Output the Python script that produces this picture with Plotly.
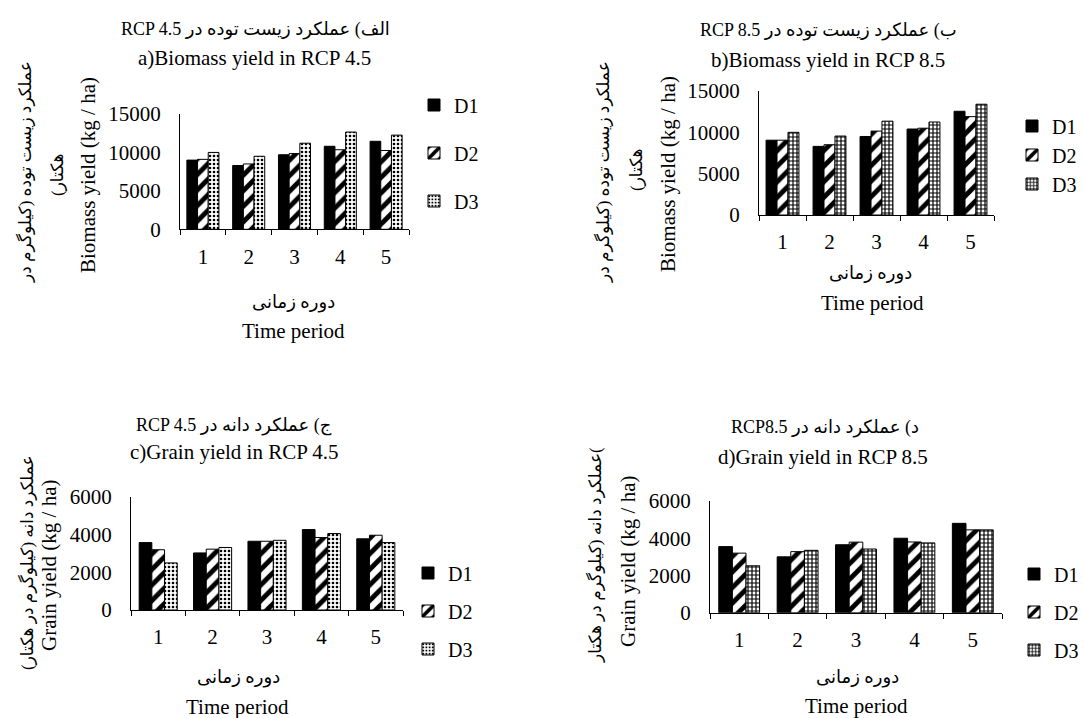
import plotly.graph_objects as go

W, H = 1084, 718

periods = ["1", "2", "3", "4", "5"]
series_names = ["D1", "D2", "D3"]

# a) Biomass yield RCP 4.5
bio45_D1 = [9000, 8300, 9700, 10800, 11450]
bio45_D2 = [9100, 8500, 9850, 10350, 10250]
bio45_D3 = [10000, 9500, 11200, 12650, 12250]
# b) Biomass yield RCP 8.5
bio85_D1 = [9050, 8300, 9500, 10400, 12550]
bio85_D2 = [9050, 8500, 10150, 10500, 11900]
bio85_D3 = [10000, 9550, 11350, 11250, 13400]
# c) Grain yield RCP 4.5
gr45_D1 = [3580, 3030, 3650, 4270, 3780]
gr45_D2 = [3200, 3230, 3650, 3850, 3970]
gr45_D3 = [2500, 3320, 3700, 4060, 3580]
# d) Grain yield RCP 8.5
gr85_D1 = [3550, 3000, 3650, 4000, 4800]
gr85_D2 = [3200, 3280, 3790, 3800, 4450]
gr85_D3 = [2520, 3350, 3420, 3750, 4450]

FONT = "Liberation Serif, DejaVu Sans, serif"
FS = 21      # latin text
FP = 17      # persian text
FT = 18      # mixed titles

def px(x):
    return x / W

def py(y):
    return 1 - y / H

panels = [
    dict(key="a", data=[bio45_D1, bio45_D2, bio45_D3], xd=(180, 409), yd=(114, 229.3),
         rng=15000, dt=5000, dot=".", legend="legend"),
    dict(key="b", data=[bio85_D1, bio85_D2, bio85_D3], xd=(759, 994), yd=(91, 215),
         rng=15000, dt=5000, dot="+", legend="legend2"),
    dict(key="c", data=[gr45_D1, gr45_D2, gr45_D3], xd=(131, 403), yd=(497, 610),
         rng=6000, dt=2000, dot=".", legend="legend3"),
    dict(key="d", data=[gr85_D1, gr85_D2, gr85_D3], xd=(710, 1002), yd=(501, 612.7),
         rng=6000, dt=2000, dot="+", legend="legend4"),
]

fig = go.Figure()
layout = {}
for i, p in enumerate(panels):
    n = "" if i == 0 else str(i + 1)
    xa, ya = "x" + n, "y" + n
    for j, (name, vals) in enumerate(zip(series_names, p["data"])):
        if j == 0:
            pattern = dict(shape="")
            color = "black"
        elif j == 1:
            pattern = dict(shape="/", bgcolor="white", fgcolor="black", size=11,
                           solidity=0.45, fillmode="replace")
            color = "white"
        else:
            if p["dot"] == ".":
                pattern = dict(shape=".", bgcolor="white", fgcolor="black", size=4,
                               solidity=0.35, fillmode="replace")
            else:
                pattern = dict(shape="+", bgcolor="white", fgcolor="black", size=4,
                               solidity=0.5, fillmode="replace")
            color = "white"
        fig.add_trace(go.Bar(
            x=periods, y=vals, name=name, xaxis=xa, yaxis=ya,
            legend=p["legend"], legendgroup=p["key"] + name,
            marker=dict(color=color, pattern=pattern,
                        line=dict(color="black", width=1)),
        ))
    layout["xaxis" + n] = dict(
        domain=[px(p["xd"][0]), px(p["xd"][1])], anchor=ya, type="category",
        range=[-0.5, 4.5], showline=True, linecolor="black", linewidth=1,
        ticks="outside", tickson="boundaries", ticklen=5, tickcolor="black",
        showgrid=False, tickfont=dict(family=FONT, size=FS, color="black"),
        ticklabelstandoff=8,
    )
    layout["yaxis" + n] = dict(
        domain=[py(p["yd"][1]), py(p["yd"][0])], anchor=xa,
        range=[0, p["rng"]], tickvals=list(range(0, p["rng"] + 1, p["dt"])),
        tickformat="d",
        showline=True, linecolor="black", linewidth=1, ticks="",
        showgrid=False, zeroline=False,
        tickfont=dict(family=FONT, size=FS, color="black"),
        ticklabelstandoff=14,
    )

# (left px, centre px of middle item, group gap)
legend_pos = {
    "legend": (414, 153, 19),
    "legend2": (1012, 155, 0),
    "legend3": (408, 611, 9),
    "legend4": (1014, 612, 9),
}
for k, (lx, ly, gap) in legend_pos.items():
    layout[k] = dict(x=px(lx), y=py(ly), xanchor="left", yanchor="middle",
                     bgcolor="rgba(0,0,0,0)", tracegroupgap=gap,
                     itemwidth=30, font=dict(family=FONT, size=20, color="black"))

RLE, PDF, LRM, RLM = "\u202B", "\u202C", "\u200E", "\u200F"

ann = []
def text(x, y, t, size, angle=0):
    ann.append(dict(x=px(x), y=py(y), xref="paper", yref="paper", text=t,
                    showarrow=False, textangle=angle, xanchor="center", yanchor="middle",
                    font=dict(family=FONT, size=size, color="black")))

# titles
text(255, 29, RLE + "الف) عملکرد زیست توده در RCP 4.5" + PDF, FT)
text(254, 58, "a)Biomass yield in RCP 4.5", FS)
text(828, 30, RLE + "ب) عملکرد زیست توده در RCP 8.5" + PDF, FT)
text(828, 60, "b)Biomass yield in RCP 8.5", FS)
text(234, 425, RLE + "ج) عملکرد دانه در RCP 4.5" + PDF, FT)
text(234, 452, "c)Grain yield in RCP 4.5", FS)
text(825, 427, RLE + "د) عملکرد دانه در RCP8.5" + PDF, FT)
text(823, 457, "d)Grain yield in RCP 8.5", FS)

# x-axis titles
text(293, 302, "دوره زمانی", FT)
text(293, 331, "Time period", FS)
text(870, 273, "دوره زمانی", FT)
text(872, 303, "Time period", FS)
text(238, 677, "دوره زمانی", FT)
text(237, 707, "Time period", FS)
text(857, 677, "دوره زمانی", FT)
text(856, 706, "Time period", FS)

# y-axis titles
text(25, 172, "عملکرد زیست توده (کیلوگرم در", FP, -90)
text(57, 175, "هکتار)" + RLM, FP, -90)
text(88, 175, "Biomass yield (kg / ha)", FS, -90)
text(603, 172, "عملکرد زیست توده (کیلوگرم در", FP, -90)
text(637, 170, "هکتار)" + RLM, FP, -90)
text(668, 174, "Biomass yield (kg / ha)", FS, -90)
text(27, 563, "عملکرد دانه (کیلوگرم در هکتار)" + RLM, FP, -90)
text(49, 566, "Grain yield (kg / ha)", FS, -90)
text(595, 555, RLM + ")عملکرد دانه (کیلوگرم در هکتار", FP, -90)
text(628, 562, "Grain yield (kg / ha)", FS, -90)

fig.update_layout(
    width=W, height=H, margin=dict(l=0, r=0, t=0, b=0, autoexpand=False),
    paper_bgcolor="white", plot_bgcolor="white",
    barmode="group", bargap=0.3, bargroupgap=0,
    showlegend=True, annotations=ann,
    font=dict(family=FONT, size=FS, color="black"),
    **layout,
)

fig.write_html(
    "out.html",
    config={"displayModeBar": False},
    post_script="document.body.style.margin='0';document.body.style.overflow='hidden';",
)
